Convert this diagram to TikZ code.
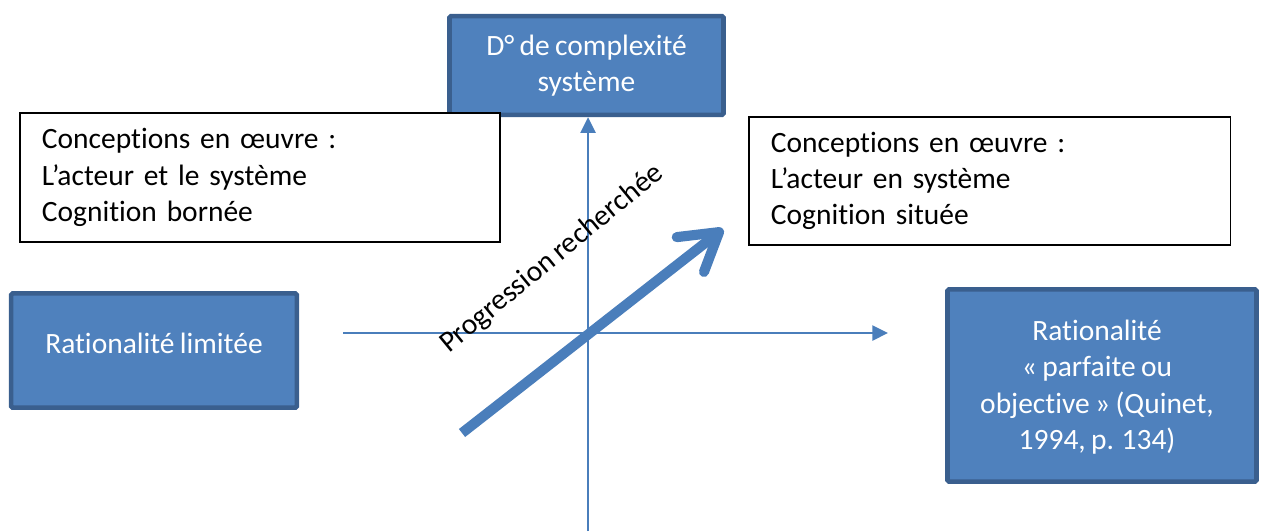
\documentclass[tikz,border=0pt]{standalone}
\usepackage{fontspec}
\setmainfont{Carlito}[Ligatures=CommonOff, WordSpace=0.8]
\usepackage{xcolor}
\usetikzlibrary{positioning,calc,arrows.meta}

\definecolor{boxblue}{HTML}{4F81BD}
\definecolor{boxedge}{HTML}{3A5F8E}
\definecolor{axisblue}{HTML}{4A7EBB}

\begin{document}
\begin{tikzpicture}[x=0.385pt, y=-0.385pt,
    every node/.style={font=\fontsize{11.35pt}{14pt}\selectfont},
    bluebox/.style={draw=boxedge, fill=boxblue, line width=1.8pt, rounded corners=0.6pt, text=white, align=center, inner sep=0pt},
    notebox/.style={draw=black, fill=white, line width=0.5pt, align=left, inner xsep=8.5pt, inner ysep=0pt},
    axis/.style={axisblue, line width=0.7pt, -{Triangle[length=6pt,width=5.8pt]}},
    progress/.style={axisblue, line width=3.9pt, -{Straight Barb[length=14pt,width=17pt,round]}}]
        \useasboundingbox (0,0) rectangle (1261,531);

        % Axes
        \coordinate (vbot) at (588,531);
        \coordinate (hleft) at (343,333);
        \coordinate (hright) at (888,333);

        % Boxes
        \node[bluebox, minimum width=105.5pt, minimum height=38pt] (complex) at (586.5,65.5) {D° de complexité\\système};
        \node[notebox, text width=167.9pt, minimum height=49.7pt] (leftnote) at (260,177.5) {Conceptions en œuvre :\\L’acteur et le système\\Cognition bornée};
        \node[notebox, text width=168.3pt, minimum height=49.3pt] (rightnote) at (989.5,181) {Conceptions en œuvre :\\L’acteur en système\\Cognition située};
        \node[bluebox, minimum width=110pt, minimum height=44pt] (limited) at (154,350.5) {};
        \node (limitedtext) at (154,343) [text=white] {Rationalité limitée};
        \node[bluebox, minimum width=119pt, minimum height=74pt] (perfect) at (1102,385.5) {};
        \node (perfecttext) at (1097,387) [text=white, align=center] {Rationalité\\« parfaite ou\\objective » (Quinet,\\1994, p. 134)};

        \draw[axis] (vbot) -- (vbot |- complex.south);
        \draw[axis] (hleft) -- (hright);

        % Progression
        \coordinate (pstart) at (462,433);
        \coordinate (pend) at (723,229);
        \draw[progress] (pstart) -- (pend);
        \node[rotate=39.5] (progtext) at (552,259) {Progression recherchée};
    \end{tikzpicture}
\end{document}
